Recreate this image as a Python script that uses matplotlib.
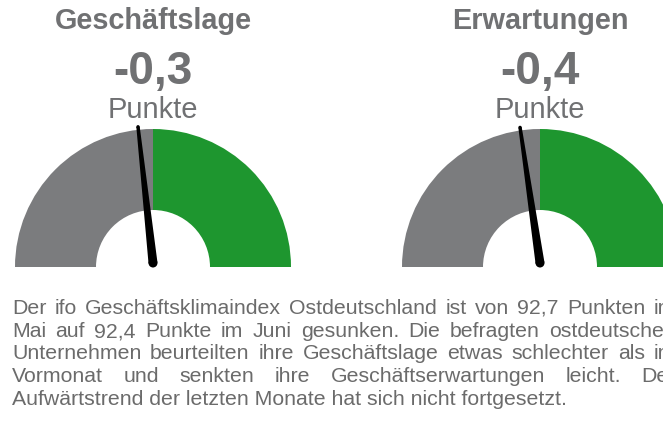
import matplotlib
matplotlib.use("Agg")
import matplotlib.pyplot as plt
from matplotlib.patches import Wedge, Polygon, Circle
import numpy as np

# ---- data ----
gauge_titles = ["Geschäftslage", "Erwartungen"]
gauge_values = [-0.3, -0.4]
gauge_labels = ["-0,3", "-0,4"]
unit_label = "Punkte"
gauge_min, gauge_max = -4.3, 4.3
paragraph_lines = [
    "Der ifo Geschäftsklimaindex Ostdeutschland ist von 92,7 Punkten im",
    "Mai auf 92,4 Punkte im Juni gesunken. Die befragten ostdeutschen",
    "Unternehmen beurteilten ihre Geschäftslage etwas schlechter als im",
    "Vormonat und senkten ihre Geschäftserwartungen leicht. Der",
    "Aufwärtstrend der letzten Monate hat sich nicht fortgesetzt.",
]

W, H = 663, 425
GRAY = "#7b7c7e"
GREEN = "#1e962f"
TXT = "#707173"
PTXT = "#6b6b6b"
FONT = "Liberation Sans"

fig = plt.figure(figsize=(W / 100, H / 100), dpi=100)
ax = fig.add_axes([0, 0, 1, 1])
ax.set_xlim(0, W)
ax.set_ylim(H, 0)
ax.axis("off")

centers_x = [153, 540]
cy = 267
r_out, r_in = 138, 57

for cx, title, val, lab in zip(centers_x, gauge_titles, gauge_values, gauge_labels):
    ax.add_patch(Wedge((cx, cy), r_out, 180, 270, width=r_out - r_in, color=GRAY, lw=0))
    ax.add_patch(Wedge((cx, cy), r_out, 270, 360, width=r_out - r_in, color=GREEN, lw=0))
    # needle
    frac = (val - gauge_min) / (gauge_max - gauge_min)
    ang = np.pi * (1 - frac)
    px, py = cx, cy - 4
    L = 137
    tx, ty = px + L * np.cos(ang), py - L * np.sin(ang)
    dx, dy = np.cos(ang), -np.sin(ang)
    nx, ny = -dy, dx
    w0, w1 = 4.5, 1.7
    poly = [(px + nx * w0, py + ny * w0), (tx + nx * w1, ty + ny * w1),
            (tx - nx * w1, ty - ny * w1), (px - nx * w0, py - ny * w0)]
    ax.add_patch(Polygon(poly, closed=True, color="black", lw=0))
    ax.add_patch(Circle((px, py), w0, color="black", lw=0))
    ax.add_patch(Circle((tx, ty), w1, color="black", lw=0))

    ax.text(cx, 29, title, ha="center", va="baseline", fontsize=20.8, fontweight="bold",
            color=TXT, family=FONT)
    ax.text(cx, 84, lab, ha="center", va="baseline", fontsize=33, fontweight="bold",
            color=TXT, family=FONT)
    ax.text(cx, 118, unit_label, ha="center", va="baseline", fontsize=21,
            color=TXT, family=FONT)

fig.canvas.draw()
renderer = fig.canvas.get_renderer()

def text_width(s, size):
    t = ax.text(0, 0, s, family=FONT, fontsize=size)
    bb = t.get_window_extent(renderer=renderer)
    t.remove()
    return bb.width

# paragraph font size chosen so the last (unjustified) line spans the reference width
target_last = 552.0
base = 13.0
psize = base * target_last / text_width(paragraph_lines[-1], base)

left, right = 12, 676
baselines = [314, 337, 359, 382, 405]

for i, (line, yb) in enumerate(zip(paragraph_lines, baselines)):
    words = line.split(" ")
    if i == len(paragraph_lines) - 1:
        ax.text(left, yb, line, ha="left", va="baseline", family=FONT,
                fontsize=psize, color=PTXT)
        continue
    widths = [text_width(w, psize) for w in words]
    gap = (right - left - sum(widths)) / (len(words) - 1)
    x = left
    for w, wd in zip(words, widths):
        ax.text(x, yb, w, ha="left", va="baseline", family=FONT,
                fontsize=psize, color=PTXT)
        x += wd + gap

fig.savefig("out.png", dpi=100)
